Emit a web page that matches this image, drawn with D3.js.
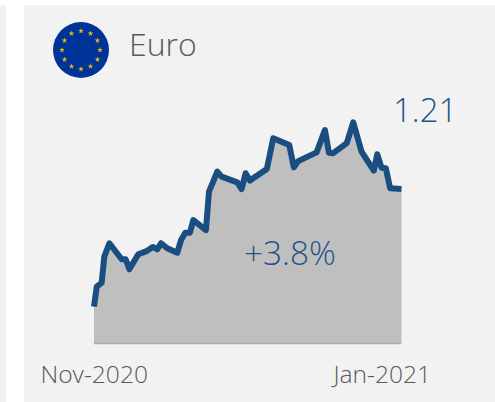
<!DOCTYPE html>
<html>
<head>
<meta charset="utf-8">
<script src="https://cdn.jsdelivr.net/npm/d3@7/dist/d3.min.js"></script>
<style>
html,body{margin:0;padding:0;background:#fff;overflow:hidden}
text{font-family:"Open Sans",Lato,sans-serif}
</style>
</head>
<body>
<svg id="c" width="495" height="402"></svg>
<script>
const title = "Euro";
const lastLabel = "1.21";
const changeLabel = "+3.8%";
const tickPositions = [-0.1, 93.6];
const tickLabels = ["Nov-2020", "Jan-2021"];
const timePositions = [0,0.9,2.5,3.35,5,9,10.3,11.5,14.4,17.1,19.1,20.6,21.8,23.8,27.1,28.3,29.7,31.2,32.3,36.4,37.4,40.1,41.5,46.6,48,49.3,50.7,56.2,58.3,63.5,65,66.4,72.4,75.1,76.4,77.8,82.2,84.3,87,91,92.1,93.5,94.9,96.3,100];
const rates = [1.1653,1.1729,1.1744,1.1843,1.1894,1.1833,1.1833,1.1795,1.1852,1.1864,1.1880,1.1871,1.1894,1.1875,1.1858,1.1906,1.1934,1.1934,1.1982,1.1944,1.2090,1.2166,1.2147,1.2125,1.2100,1.2160,1.2132,1.2176,1.2293,1.2267,1.2182,1.2206,1.2239,1.2324,1.2238,1.2236,1.2274,1.2353,1.2242,1.2170,1.2232,1.2181,1.2179,1.2103,1.2100];

const svg = d3.select("#c");
svg.append("rect").attr("x",0).attr("y",5).attr("width",6).attr("height",397).attr("fill","#f2f2f2");
svg.append("rect").attr("x",24).attr("y",5).attr("width",471).attr("height",397).attr("fill","#f2f2f2");

const x = d3.scaleLinear().domain([0,100]).range([94,401.5]);
const y = d3.scaleLinear().domain([1.1515,1.21]).range([343,189]);
const pts = rates.map((r,i)=>[timePositions[i],r]);

svg.append("path").datum(pts)
  .attr("d",d3.area().x(d=>x(d[0])).y0(y.range()[0]).y1(d=>y(d[1])))
  .attr("fill","#bfbfbf");
svg.append("line").attr("x1",x(0)).attr("x2",x(100)).attr("y1",343.5).attr("y2",343.5)
  .attr("stroke","#adadad").attr("stroke-width",1.5);
svg.append("path").datum(pts)
  .attr("d",d3.line().x(d=>x(d[0])).y(d=>y(d[1])))
  .attr("fill","none").attr("stroke","#1a4e80").attr("stroke-width",6)
  .attr("stroke-linejoin","round").attr("stroke-linecap","butt");

const axis = d3.axisBottom(x).tickValues(tickPositions)
  .tickFormat((d,i)=>tickLabels[i]).tickSize(0).tickPadding(0);
const ax = svg.append("g").attr("transform","translate(0,363)").call(axis);
ax.select(".domain").remove();
ax.selectAll("text").attr("font-size",24.6).attr("font-weight",300).attr("fill","#595959")
  .attr("font-family","Open Sans").attr("dy",0).attr("y",20);

// flag
const cx=81, cy=50;
svg.append("circle").attr("cx",cx).attr("cy",cy).attr("r",28).attr("fill","#003399");
const star = d3.symbol().type(d3.symbolStar).size(10);
d3.range(12).forEach(i=>{
  const a=i*Math.PI/6;
  svg.append("path").attr("d",star())
    .attr("transform",`translate(${cx+19*Math.sin(a)},${cy-19*Math.cos(a)})`)
    .attr("fill","#e0b810");
});

svg.append("text").attr("x",129).attr("y",55.5).attr("font-size",32).attr("font-weight",300)
  .attr("fill","#595959").text(title);
svg.append("text").attr("x",393).attr("y",122).attr("font-size",33).attr("font-weight",300)
  .attr("fill","#1f5488").text(lastLabel);
svg.append("text").attr("x",244).attr("y",265).attr("font-size",33.3).attr("font-weight",300)
  .attr("fill","#1f5488").text(changeLabel);
</script>
</body>
</html>
